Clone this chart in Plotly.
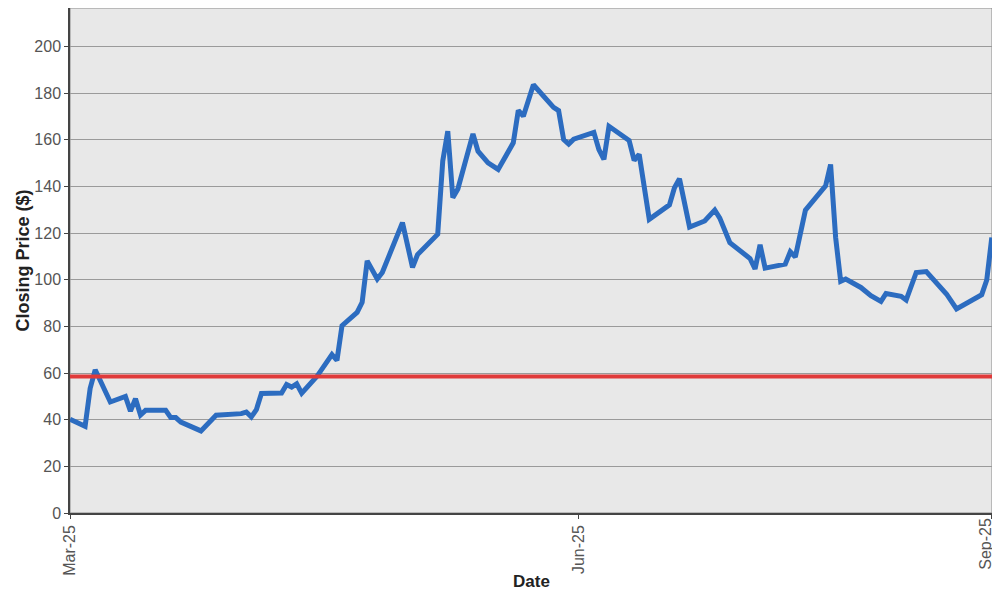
import plotly.graph_objects as go

dates = [
    "2025-03-03", "2025-03-06", "2025-03-07", "2025-03-08", "2025-03-11", "2025-03-14",
    "2025-03-15", "2025-03-16", "2025-03-17", "2025-03-18", "2025-03-22", "2025-03-23",
    "2025-03-24", "2025-03-25", "2025-03-29", "2025-04-01", "2025-04-06", "2025-04-07",
    "2025-04-08", "2025-04-09", "2025-04-10", "2025-04-14", "2025-04-15", "2025-04-16",
    "2025-04-17", "2025-04-18", "2025-04-21", "2025-04-24", "2025-04-25", "2025-04-26",
    "2025-04-29", "2025-04-30", "2025-05-01", "2025-05-03", "2025-05-04", "2025-05-08",
    "2025-05-10", "2025-05-11", "2025-05-15", "2025-05-16", "2025-05-17", "2025-05-18",
    "2025-05-19", "2025-05-22", "2025-05-23", "2025-05-25", "2025-05-27", "2025-05-30",
    "2025-05-31", "2025-06-01", "2025-06-03", "2025-06-07", "2025-06-08", "2025-06-09",
    "2025-06-10", "2025-06-11", "2025-06-15", "2025-06-16", "2025-06-17", "2025-06-18",
    "2025-06-22", "2025-06-23", "2025-06-24", "2025-06-26", "2025-06-30", "2025-07-01",
    "2025-07-02", "2025-07-04", "2025-07-07", "2025-07-09", "2025-07-10", "2025-07-12",
    "2025-07-16", "2025-07-17", "2025-07-18", "2025-07-19", "2025-07-23", "2025-07-24",
    "2025-07-25", "2025-07-27", "2025-07-31", "2025-08-01", "2025-08-02", "2025-08-03",
    "2025-08-04", "2025-08-07", "2025-08-09", "2025-08-11", "2025-08-12", "2025-08-15",
    "2025-08-16", "2025-08-17", "2025-08-18", "2025-08-20", "2025-08-24", "2025-08-26",
    "2025-08-31", "2025-09-01", "2025-09-02",
]

closing_price = [
    40.2, 37.2, 53.4, 61.4, 47.6, 50.0,
    43.7, 49.0, 42.0, 44.0, 44.0, 40.9,
    40.9, 39.0, 35.2, 41.9, 42.6, 43.3,
    41.2, 44.3, 51.2, 51.4, 55.1, 54.0,
    55.4, 51.4, 58.5, 67.9, 65.4, 80.3,
    86.0, 90.3, 108.1, 100.3, 103.1, 124.5,
    105.3, 110.8, 119.5, 150.9, 163.7, 135.2,
    138.9, 162.5, 155.1, 150.1, 147.3, 158.7,
    172.6, 170.1, 183.6, 173.9, 172.5, 160.1,
    158.2, 160.3, 163.2, 155.8, 151.6, 165.8,
    159.7, 151.2, 153.7, 125.9, 132.1, 139.4,
    143.3, 122.6, 125.2, 129.9, 126.4, 115.9,
    109.1, 104.6, 115.0, 105.0, 106.7, 112.0,
    109.8, 129.8, 140.2, 149.4, 118.1, 99.3,
    100.3, 96.7, 93.2, 90.7, 94.1, 92.9,
    91.3, 96.7, 103.1, 103.5, 93.9, 87.5,
    93.6, 99.9, 118.1,
]

reference_level = 58.5

x_range = ["2025-03-03", "2025-09-02 01:00"]
x_tick_dates = ["2025-03-03", "2025-06-12", "2025-09-02"]
x_tick_labels = ["Mar-25", "Jun-25", "Sep-25"]
y_tick_values = [0, 20, 40, 60, 80, 100, 120, 140, 160, 180, 200]

FONT = "Liberation Sans, Arial, sans-serif"

fig = go.Figure()

fig.add_trace(go.Scatter(
    x=dates, y=closing_price, mode="lines",
    line=dict(color="#2c6cc0", width=5),
    showlegend=False, hoverinfo="x+y",
))

fig.add_shape(
    type="line", xref="paper", x0=0, x1=1, yref="y",
    y0=reference_level, y1=reference_level,
    line=dict(color="#e03a3a", width=4), layer="above",
)

fig.add_shape(
    type="rect", xref="paper", yref="paper", x0=0, x1=1, y0=0, y1=1,
    line=dict(color="#8a8a8a", width=1), layer="below",
)

# last tick label drawn as an annotation so it stays inside the page edge
fig.add_annotation(
    text=x_tick_labels[-1], xref="x", yref="paper", x=x_tick_dates[-1], y=0,
    xanchor="center", yanchor="top", xshift=-7, yshift=-4, showarrow=False,
    textangle=-90, borderpad=0,
    font=dict(family=FONT, size=16, color="#555555"),
)

fig.add_annotation(
    text="<b>Date</b>", xref="paper", yref="paper", x=0.5, y=-0.1366,
    xanchor="center", yanchor="middle", showarrow=False,
    font=dict(family=FONT, size=17, color="#222222"),
)
fig.add_annotation(
    text="<b>Closing Price ($)</b>", xref="paper", yref="paper", x=-0.052, y=0.5,
    xanchor="center", yanchor="middle", showarrow=False, textangle=-90,
    font=dict(family=FONT, size=18, color="#222222"),
)

fig.update_layout(
    width=992, height=592,
    margin=dict(l=62, r=8, t=0, b=87, autoexpand=False),
    paper_bgcolor="white",
    plot_bgcolor="#e8e8e8",
    font=dict(family=FONT, size=16, color="#555555"),
    xaxis=dict(
        type="date", automargin=False,
        range=x_range,
        tickmode="array", tickvals=x_tick_dates,
        ticktext=x_tick_labels[:-1] + [""],
        tickangle=-90,
        showgrid=False, zeroline=False,
        showline=True, linecolor="#444444", linewidth=1.5,
        ticks="outside", ticklen=4, tickcolor="#444444",
        tickfont=dict(size=16, color="#555555"),
    ),
    yaxis=dict(
        automargin=False,
        range=[0, 216.5],
        tickmode="array", tickvals=y_tick_values,
        showgrid=True, gridcolor="#9a9a9a", gridwidth=1,
        zeroline=False,
        showline=True, linecolor="#444444", linewidth=1.5,
        ticks="outside", ticklen=4, tickcolor="#444444",
        tickfont=dict(size=16, color="#555555"),
    ),
)

fig.write_html("out.html")
